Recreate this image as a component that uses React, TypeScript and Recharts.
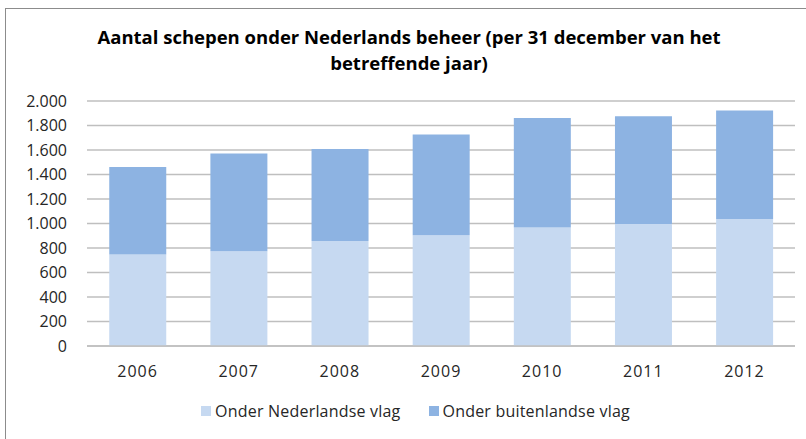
import React from "react";
import { BarChart, Bar, XAxis, YAxis, CartesianGrid, Legend } from "recharts";

const years = ["2006", "2007", "2008", "2009", "2010", "2011", "2012"];
const nederlandseVlag = [746, 773, 857, 904, 967, 996, 1037];
const buitenlandseVlag = [715, 798, 751, 822, 894, 879, 885];
const yTicks = [0, 200, 400, 600, 800, 1000, 1200, 1400, 1600, 1800, 2000];

const data = years.map((y, i) => ({
  year: y,
  nl: nederlandseVlag[i],
  bl: buitenlandseVlag[i],
}));

const FONT = "'Open Sans', sans-serif";
const fmt = (v: number) => v.toLocaleString("de-DE");

const renderLegend = (props: any) => {
  const payload = props.payload || [];
  return (
    <div style={{ display: "flex", justifyContent: "center", gap: 28, paddingLeft: 36, marginTop: 9 }}>
      {payload.map((p: any) => (
        <div key={p.value} style={{ display: "flex", alignItems: "center" }}>
          <span style={{ display: "inline-block", width: 10, height: 10, background: p.color, marginRight: 4 }} />
          <span style={{ color: "#262626", fontSize: 16, fontFamily: FONT, letterSpacing: 0.2 }}>{p.value}</span>
        </div>
      ))}
    </div>
  );
};

export default function App() {
  return (
    <div style={{ position: "fixed", left: 0, top: 0, width: 806, height: 439, background: "#fff", fontFamily: FONT }}>
      <div
        style={{
          position: "absolute",
          left: 5,
          top: 8,
          width: 801,
          height: 431,
          borderLeft: "1.5px solid #8c8c8c",
          borderTop: "1.5px solid #8c8c8c",
        }}
      />
      <div
        style={{
          position: "absolute",
          left: 0,
          top: 24,
          width: 818,
          textAlign: "center",
          fontWeight: 700,
          fontSize: 18.5,
          lineHeight: "26px",
          color: "#000",
        }}
      >
        Aantal schepen onder Nederlands beheer (per 31 december van het
        <br />
        betreffende jaar)
      </div>
      <div style={{ position: "absolute", left: 0, top: 0 }}>
        <BarChart
          width={806}
          height={439}
          data={data}
          margin={{ top: 101, right: 11, left: 0, bottom: 0 }}
          barCategoryGap="22%"
        >
          <CartesianGrid vertical={false} stroke="#bfbfbf" strokeWidth={1.5} />
          <XAxis
            dataKey="year"
            axisLine={{ stroke: "#bfbfbf", strokeWidth: 1.5 }}
            tickLine={false}
            height={45}
            tick={{ fill: "#262626", fontSize: 16, fontFamily: FONT, letterSpacing: 1 }}
            dy={12}
          />
          <YAxis
            width={87}
            domain={[0, 2000]}
            ticks={yTicks}
            tickFormatter={fmt}
            axisLine={false}
            tickLine={false}
            tick={{ fill: "#262626", fontSize: 16, fontFamily: FONT }}
            dx={-12}
            interval={0}
          />
          <Legend
            verticalAlign="bottom"
            align="center"
            height={48}
            content={renderLegend}
          />
          <Bar dataKey="nl" name="Onder Nederlandse vlag" stackId="a" fill="#c6d9f1" isAnimationActive={false} />
          <Bar dataKey="bl" name="Onder buitenlandse vlag" stackId="a" fill="#8db3e2" isAnimationActive={false} />
        </BarChart>
      </div>
    </div>
  );
}
